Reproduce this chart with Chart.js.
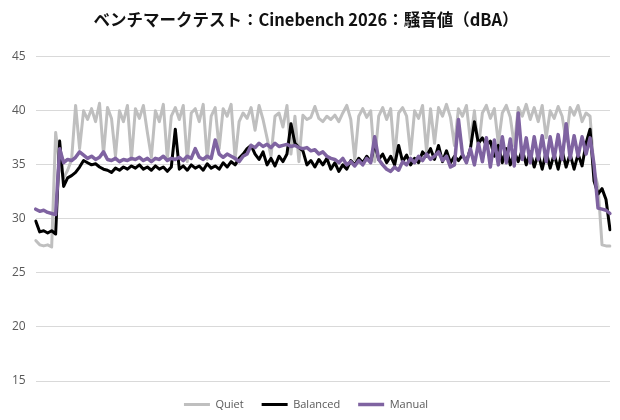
<!DOCTYPE html>
<html lang="ja">
<head>
<meta charset="utf-8">
<title>Cinebench 2026 騒音値</title>
<script src="https://cdn.jsdelivr.net/npm/chart.js@4.4.1/dist/chart.umd.min.js"></script>
<style>
  html, body { margin: 0; padding: 0; background: #ffffff; }
  #wrap { width: 620px; height: 420px; }
</style>
</head>
<body>
<div id="wrap"><canvas id="noiseChart" width="620" height="420"></canvas></div>
<script>
// Values (dBA), one sample per ~4px of the plot width
const quiet = [
  28.0, 27.6, 27.5, 27.6, 27.4, 38.0, 35.0, 33.8, 34.5, 35.5,
  40.5, 36.5, 40.0, 39.2, 40.2, 39.0, 40.7, 36.0, 40.3, 39.3,
  35.8, 40.0, 39.0, 40.5, 35.5, 40.2, 39.3, 40.5, 38.0, 35.7,
  40.0, 39.0, 40.6, 35.5, 39.5, 40.3, 39.2, 40.5, 35.3, 39.8,
  40.2, 39.0, 40.6, 35.5, 39.5, 40.3, 36.5, 40.2, 39.5, 40.6,
  35.5, 39.0, 39.8, 39.3, 40.3, 38.2, 40.5, 39.2, 37.5, 35.8,
  39.5, 39.8, 38.5, 40.5, 36.0, 39.5, 35.3, 39.6, 39.2, 39.4,
  40.4, 39.3, 39.0, 39.5, 39.2, 39.6, 39.0, 39.8, 40.5, 39.2,
  35.5, 39.5, 40.2, 39.4, 40.0, 35.3, 39.5, 40.3, 39.2, 40.2,
  35.6, 39.8, 40.3, 39.5, 36.0, 40.0, 39.3, 40.5, 36.2, 40.2,
  37.0, 40.3, 39.5, 40.6, 39.4, 36.8, 40.2, 39.5, 40.5, 37.2,
  40.0, 36.5, 39.8, 40.5, 39.3, 40.2, 37.0, 39.8, 40.5, 39.4,
  36.8, 40.3, 39.5, 40.6, 39.2, 40.3, 39.0, 40.5, 37.5, 40.0,
  39.3, 40.4, 39.5, 37.2, 40.3, 39.6, 40.5, 39.0, 39.8, 39.5,
  34.5, 33.0, 27.6, 27.5, 27.5
];

const balanced = [
  29.8, 28.8, 28.9, 28.7, 28.9, 28.6, 37.2, 33.0, 33.8, 34.0,
  34.3, 34.8, 35.4, 35.2, 35.0, 35.1, 34.8, 34.6, 34.5, 34.3,
  34.7, 34.5, 34.8, 34.6, 34.9, 34.7, 35.0, 34.6, 34.8, 34.5,
  34.9, 34.6, 34.8, 34.4, 34.8, 38.3, 34.6, 34.9, 34.5, 35.0,
  34.7, 34.9, 34.5, 35.1, 34.7, 34.9, 34.6, 35.2, 34.8, 35.3,
  35.0, 35.6, 36.0, 36.5, 36.8, 36.0, 35.5, 36.2, 35.0, 35.6,
  34.9, 35.8, 35.3, 36.0, 38.8, 37.0, 36.6, 36.3, 35.0, 35.4,
  34.8, 35.5, 35.0, 35.6, 34.6, 35.2, 34.4, 35.0, 34.6, 35.4,
  35.0, 35.6, 35.2, 35.8, 35.3, 37.0, 35.5, 36.0, 35.2, 35.8,
  35.0, 36.8, 35.3, 35.9, 35.0, 35.6, 35.2, 36.2, 35.8, 36.5,
  35.5, 36.8, 35.3, 36.3, 35.2, 35.8, 35.4, 35.9, 35.3, 36.5,
  39.0, 37.0, 37.5, 36.8, 37.2, 35.8, 36.8, 35.2, 36.5, 35.0,
  36.2, 35.3, 36.4, 35.0, 36.2, 34.8, 36.0, 34.6, 36.2, 34.7,
  36.0, 34.6, 36.3, 34.8, 36.0, 34.6, 36.0, 34.9, 37.0, 38.3,
  33.5, 32.3, 32.8, 31.8, 29.0
];

const manual = [
  30.9, 30.7, 30.8, 30.6, 30.5, 30.4, 36.5, 35.2, 35.5, 35.4,
  35.7, 36.2, 35.9, 35.6, 35.8, 35.5, 35.7, 36.2, 35.5, 35.4,
  35.6, 35.3, 35.5, 35.4, 35.6, 35.5, 35.7, 35.4, 35.6, 35.3,
  35.6, 35.5, 35.8, 35.4, 35.6, 35.5, 35.7, 35.4, 35.8, 35.6,
  36.5, 35.7, 35.5, 35.8, 35.6, 37.3, 36.0, 35.7, 36.0, 35.8,
  35.6, 35.3, 35.8, 36.0, 36.8, 36.6, 37.0, 36.7, 36.9, 36.6,
  37.0, 36.7, 36.8, 36.9, 36.7, 36.8, 36.6, 36.5, 36.6, 36.3,
  36.4, 36.0, 36.2, 35.8, 35.6, 35.5, 35.2, 35.6, 35.0, 35.3,
  34.9, 35.4, 35.0, 35.6, 35.2, 37.6, 35.5, 35.0, 34.6, 34.4,
  34.8, 34.5, 35.3, 35.0, 35.6, 35.2, 35.8, 35.4, 36.0, 35.5,
  35.8, 36.2, 35.4, 35.8, 34.8, 35.0, 39.2, 36.0, 35.2, 36.5,
  35.0, 37.0, 35.3, 37.5, 34.8, 37.3, 35.0, 37.6, 35.2, 37.4,
  34.9, 39.8, 35.5, 37.5, 35.2, 37.6, 35.5, 37.7, 35.3, 37.6,
  35.6, 37.8, 35.5, 38.8, 35.6, 37.7, 35.8, 37.6, 36.0, 37.5,
  35.0, 31.0, 30.9, 30.8, 30.5
];

const seriesNames = ['Quiet', 'Balanced', 'Manual'];
const seriesColors = ['#bfbfbf', '#000000', '#7f63a1'];
const yTicks = [15, 20, 25, 30, 35, 40, 45];

// sample index only, the x axis carries no labels
const samples = quiet.map((_, i) => i);

const labelFont = { family: "'Open Sans', 'Noto Sans', sans-serif", size: 12 };
const legendFont = { family: "'Open Sans', 'Noto Sans', sans-serif", size: 11 };

const ctx = document.getElementById('noiseChart').getContext('2d');

new Chart(ctx, {
  type: 'line',
  data: {
    labels: samples,
    datasets: [
      { label: seriesNames[0], data: quiet, borderColor: seriesColors[0], backgroundColor: seriesColors[0], borderWidth: 3, order: 3 },
      { label: seriesNames[1], data: balanced, borderColor: seriesColors[1], backgroundColor: seriesColors[1], borderWidth: 3, order: 2 },
      { label: seriesNames[2], data: manual, borderColor: seriesColors[2], backgroundColor: seriesColors[2], borderWidth: 3.5, order: 1 }
    ]
  },
  options: {
    responsive: false,
    animation: false,
    elements: {
      point: { radius: 0 },
      line: { tension: 0, borderJoinStyle: 'round', borderCapStyle: 'round' }
    },
    layout: { padding: { left: 2, right: 10, top: 0, bottom: 0 } },
    plugins: {
      title: {
        display: true,
        text: 'ベンチマークテスト：Cinebench 2026：騒音値（dBA）',
        color: '#111111',
        font: { family: "'Noto Sans CJK JP', sans-serif", size: 16.5, weight: 'bold' },
        padding: { top: 10, bottom: 27 }
      },
      legend: {
        position: 'bottom',
        labels: {
          sort: (a, b) => a.datasetIndex - b.datasetIndex,
          usePointStyle: true,
          pointStyle: 'line',
          pointStyleWidth: 26,
          color: '#595959',
          font: legendFont,
          padding: 18
        }
      },
      tooltip: { enabled: false }
    },
    scales: {
      x: {
        display: false,
        offset: false
      },
      y: {
        min: yTicks[0],
        max: yTicks[yTicks.length - 1],
        afterBuildTicks: (axis) => { axis.ticks = yTicks.map(v => ({ value: v })); },
        border: { display: false },
        grid: { color: '#d9d9d9', lineWidth: 1, drawTicks: false },
        ticks: { color: '#595959', font: labelFont, padding: 10 }
      }
    }
  }
});
</script>
</body>
</html>
